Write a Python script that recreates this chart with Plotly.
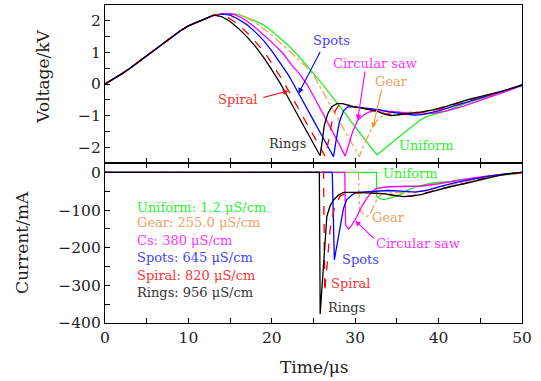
import plotly.graph_objects as go
from plotly.subplots import make_subplots

# ---------------- Voltage (kV) ----------------
t_rise = [0, 1, 2, 3, 4, 5, 6, 7, 8, 9, 10, 11, 12]
v_rise = [0, 0.15, 0.32, 0.5, 0.7, 0.9, 1.1, 1.3, 1.5, 1.68, 1.84, 1.95, 2.07]

t_v_uniform = [13, 14, 15, 16, 17, 18, 19, 20, 21, 22, 23, 24, 25, 26, 27, 28, 29, 30, 31, 32, 32.6,
               34, 35, 36, 37, 37.8, 38.5, 39.5, 41, 43.4, 45.5, 47.4, 49, 50]
v_uniform = [2.17, 2.21, 2.22, 2.2, 2.1, 2.0, 1.87, 1.68, 1.45, 1.22, 0.95, 0.65, 0.34, 0.02, -0.32, -0.65,
             -1.0, -1.36, -1.7, -2.02, -2.24, -1.94, -1.73, -1.52, -1.31, -1.14, -1.04, -0.96, -0.84,
             -0.6, -0.44, -0.28, -0.12, -0.03]

t_v_gear = [13, 14, 15, 16, 17, 18, 19, 20, 21, 22, 23, 24, 25, 25.6, 26.5, 27.5, 28.5, 29.5, 30.5,
            31, 31.8, 32.6, 33.4, 34.2, 35, 36, 37, 38, 40, 42, 44, 46, 48, 50]
v_gear = [2.17, 2.21, 2.22, 2.2, 2.1, 1.95, 1.75, 1.55, 1.3, 1.08, 0.82, 0.58, 0.28, 0, -0.42, -0.9,
          -1.38, -1.85, -2.3, -1.95, -1.5, -1.15, -0.98, -0.9, -0.88, -0.9, -0.9, -0.88, -0.82, -0.68,
          -0.52, -0.38, -0.22, -0.03]

t_v_cs = [13, 14.5, 15.5, 16.5, 17.5, 18.5, 19.5, 20.5, 21.4, 22.4, 23.2, 24.2, 25, 26, 27, 28, 28.8,
          29.2, 29.7, 30.3, 31, 31.7, 32.5, 33.5, 35, 36.5, 38, 39.5, 41, 43, 45, 47, 49, 50]
v_cs = [2.17, 2.23, 2.2, 2.08, 1.9, 1.68, 1.45, 1.2, 0.95, 0.6, 0.36, 0, -0.38, -0.86, -1.36, -1.86,
        -2.28, -1.9, -1.5, -1.15, -0.98, -0.88, -0.85, -0.85, -0.88, -0.92, -0.95, -0.92, -0.85, -0.7,
        -0.52, -0.35, -0.15, -0.05]

t_v_spots = [13, 14, 15, 16, 17, 18, 19, 20, 21, 22, 22.6, 23, 24, 25, 26, 27.4, 27.7, 28.1, 28.6, 29.1,
             30, 31, 32, 33, 34, 35, 36, 37, 38, 39, 40, 42, 44, 46, 48, 50]
v_spots = [2.17, 2.22, 2.18, 2.05, 1.88, 1.65, 1.38, 1.05, 0.68, 0.28, 0, -0.2, -0.68, -1.15, -1.63,
           -2.3, -1.8, -1.2, -0.85, -0.72, -0.72, -0.75, -0.78, -0.82, -0.88, -0.92, -0.95, -0.98,
           -0.97, -0.92, -0.85, -0.68, -0.52, -0.38, -0.2, -0.03]

t_v_spiral = [13, 13.5, 14.5, 15.5, 16.5, 17.5, 18.5, 19.5, 20.5, 21.5, 22.5, 23.5, 24.5, 25.5, 26.4,
              26.8, 27.2, 27.6, 28.1, 28.8, 29.5, 30.5, 31.5, 32.5, 33.5, 34.5, 36, 38, 40, 43.4, 47.4, 50]
v_spiral = [2.17, 2.2, 2.14, 1.98, 1.76, 1.5, 1.2, 0.86, 0.46, 0.03, -0.45, -0.93, -1.4, -1.87, -2.29,
            -1.8, -1.2, -0.85, -0.65, -0.62, -0.7, -0.75, -0.8, -0.85, -0.93, -0.98, -0.95, -0.9, -0.8,
            -0.52, -0.25, -0.03]

t_v_rings = [13, 14, 15, 16, 17, 18, 19, 20, 21, 22, 23, 24, 25, 25.8, 26.0, 26.3, 26.7, 27.2, 27.8,
             28.5, 29.5, 30.5, 31.5, 32.5, 33.5, 34.2, 35, 36, 37, 38, 39.3, 41, 43.4, 45.5, 47.4, 49, 50]
v_rings = [2.18, 2.13, 1.98, 1.76, 1.5, 1.2, 0.85, 0.45, 0.03, -0.45, -0.93, -1.4, -1.87, -2.27, -1.9,
           -1.3, -0.95, -0.72, -0.62, -0.62, -0.7, -0.75, -0.8, -0.85, -0.95, -1.0, -0.98, -0.95, -0.92,
           -0.88, -0.82, -0.7, -0.5, -0.37, -0.24, -0.12, -0.03]

# ---------------- Current (mA) ----------------
t_i_uniform = [0, 32.55, 32.6, 33, 33.5, 34.2, 35.4, 36.5, 37.4, 39.3, 41.4, 43.4, 45.3, 47.4, 49.3, 50]
i_uniform = [0, 0, -64, -70, -72, -68, -59, -45, -37, -28, -24, -17, -13, -7, -4, 0]

t_i_gear = [0, 30.4, 30.5, 31, 31.4, 31.8, 32.3, 32.8, 33.5, 35, 37, 39, 41, 43, 45, 47, 50]
i_gear = [0, 0, -99, -112, -117, -110, -85, -64, -55, -54, -52, -45, -35, -25, -15, -7, 0]

t_i_cs = [0, 28.75, 28.85, 29.2, 29.6, 30.2, 30.8, 31.4, 32, 32.6, 34, 36, 38, 40, 42, 44, 46, 48, 50]
i_cs = [0, 0, -140, -150, -140, -117, -90, -68, -52, -42, -38, -38, -36, -30, -22, -15, -9, -4, 0]

t_i_spots = [0, 27.25, 27.5, 27.9, 28.2, 28.6, 29, 29.6, 30.2, 32, 34, 36, 37.2, 38.5, 40, 42, 44, 46, 48, 50]
i_spots = [0, 0, -232, -180, -140, -95, -72, -60, -53, -50, -48, -50, -52, -48, -38, -27, -18, -10, -4, 0]

t_i_spiral = [0, 26.2, 26.35, 26.7, 27, 27.5, 28.2, 29, 31, 33, 35, 36.5, 38, 40, 43, 46, 50]
i_spiral = [0, 0, -318, -230, -150, -95, -62, -55, -54, -56, -62, -63, -57, -45, -30, -12, 0]

t_i_rings = [0, 25.7, 25.8, 26.2, 26.6, 27, 27.4, 28, 28.6, 30, 31.4, 33.4, 34.5, 35.8, 37, 38, 39.3, 41,
             43.4, 45.5, 47.4, 49, 50]
i_rings = [0, 0, -376, -232, -117, -88, -73, -60, -53, -53, -55, -56, -60, -64, -62, -58, -50, -40, -28,
           -17, -7, -2, 0]

# tick labels
x_ticks = [0, 5, 10, 15, 20, 25, 30, 35, 40, 45, 50]
x_labels = ["0", "", "10", "", "20", "", "30", "", "40", "", "50"]
v_ticks = [-2.5, -2, -1.5, -1, -0.5, 0, 0.5, 1, 1.5, 2, 2.5]
v_labels = ["", "−2", "", "−1", "", "0", "", "1", "", "2", ""]
i_ticks = [-400, -350, -300, -250, -200, -150, -100, -50, 0]
i_labels = ["−400", "", "−300", "", "−200", "", "−100", "", "0"]

legend_lines = ["Uniform: 1.2 μS/cm", "Gear: 255.0 μS/cm", "Cs: 380 μS/cm",
                "Spots: 645 μS/cm", "Spiral: 820 μS/cm", "Rings: 956 μS/cm"]

FONT = "DejaVu Serif"
C_GREEN, C_ORANGE, C_MAG, C_BLUE, C_RED, C_BLACK = "#22ee22", "#f7a05e", "#ff00ff", "#0000ff", "#ff0000", "#000000"
T_GREEN, T_ORANGE, T_MAG, T_BLUE, T_RED, T_BLACK = "#33ee33", "#f0a060", "#ff33ff", "#4444ff", "#ff3333", "#333333"
A_ORANGE = "#ff9020"

fig = make_subplots(rows=2, cols=1, shared_xaxes=True, vertical_spacing=0)

series = [
    (t_v_uniform, v_uniform, t_i_uniform, i_uniform, C_GREEN, "solid"),
    (t_v_gear, v_gear, t_i_gear, i_gear, C_ORANGE, "dashdot"),
    (t_v_cs, v_cs, t_i_cs, i_cs, C_MAG, "solid"),
    (t_v_spots, v_spots, t_i_spots, i_spots, C_BLUE, "solid"),
    (t_v_spiral, v_spiral, t_i_spiral, i_spiral, C_RED, "dash"),
    (t_v_rings, v_rings, t_i_rings, i_rings, C_BLACK, "solid"),
]
for tv, vv, ti, ii, col, dash in series:
    fig.add_trace(go.Scatter(x=t_rise + tv, y=v_rise + vv, mode="lines",
                             line=dict(color=col, width=1.3, dash=dash), showlegend=False), row=1, col=1)
    fig.add_trace(go.Scatter(x=ti, y=ii, mode="lines",
                             line=dict(color=col, width=1.3, dash=dash), showlegend=False), row=2, col=1)

ann = []
def text(x, y, s, color, xref="x", yref="y", size=13, xanchor="center"):
    ann.append(dict(x=x, y=y, xref=xref, yref=yref, text=s, showarrow=False,
                    font=dict(family=FONT, size=size, color=color), xanchor=xanchor, yanchor="middle"))

def arrow(x0, y0, x1, y1, color, xref="x", yref="y"):
    ann.append(dict(x=x1, y=y1, ax=x0, ay=y0, xref=xref, yref=yref, axref=xref, ayref=yref,
                    text="", showarrow=True, arrowhead=2, arrowsize=1, arrowwidth=1.1, arrowcolor=color))

# top panel labels
text(27.2, 1.39, "Spots", T_BLUE)
arrow(25.9, 1.07, 23.2, -0.3, C_BLUE)
text(32.4, 0.66, "Circular saw", T_MAG)
arrow(31.2, 0.44, 30.3, -1.14, C_MAG)
text(34.4, 0.09, "Gear", T_ORANGE)
arrow(33.2, -0.13, 32.1, -1.4, A_ORANGE)
text(15.9, -0.5, "Spiral", T_RED)
arrow(18.8, -0.44, 22.0, -0.22, C_RED)
text(21.9, -1.89, "Rings", T_BLACK)
text(38.5, -1.95, "Uniform", T_GREEN)

# bottom panel labels
text(36.6, -3.5, "Uniform", T_GREEN, "x2", "y2")
text(34.05, -120, "Gear", T_ORANGE, "x2", "y2")
text(37.5, -190, "Circular saw", T_MAG, "x2", "y2")
arrow(32.4, -179, 30.0, -128, C_MAG, "x2", "y2")
text(30.6, -230, "Spots", T_BLUE, "x2", "y2")
text(29.5, -296, "Spiral", T_RED, "x2", "y2")
text(28.9, -359, "Rings", T_BLACK, "x2", "y2")

leg_colors = [T_GREEN, T_ORANGE, T_MAG, T_BLUE, T_RED, T_BLACK]
leg_y = [-93, -134, -180, -227, -273, -318]
for s, c, yv in zip(legend_lines, leg_colors, leg_y):
    text(3.6, yv, s, c, "x2", "y2", xanchor="left")

# axis titles
title_font = dict(family=FONT, size=17, color="#222")
ann.append(dict(x=-0.149, y=0.774, xref="paper", yref="paper", text="Voltage/kV", showarrow=False,
                textangle=-90, xanchor="center", yanchor="middle", font=title_font))
ann.append(dict(x=-0.199, y=0.252, xref="paper", yref="paper", text="Current/mA", showarrow=False,
                textangle=-90, xanchor="center", yanchor="middle", font=title_font))
ann.append(dict(x=0.5, y=-0.137, xref="paper", yref="paper", text="Time/μs", showarrow=False,
                xanchor="center", yanchor="middle", font=title_font))

axis_common = dict(showline=True, linecolor="black", linewidth=1.2, ticks="inside", ticklen=5,
                   tickcolor="black", tickwidth=1, showgrid=False, zeroline=False,
                   tickfont=dict(family=FONT, size=15.5, color="#222"))

fig.update_layout(
    width=541, height=381, margin=dict(l=105, r=19, t=5, b=58),
    paper_bgcolor="white", plot_bgcolor="white", annotations=ann,
    xaxis=dict(axis_common, range=[0, 50], tickvals=x_ticks, ticktext=x_labels, showticklabels=False,
               mirror=True, domain=[0, 1]),
    xaxis2=dict(axis_common, range=[0, 50], tickvals=x_ticks, ticktext=x_labels, mirror="ticks",
                domain=[0, 1]),
    yaxis=dict(axis_common, range=[-2.5, 2.5], tickvals=v_ticks, ticktext=v_labels, mirror=True,
               domain=[0.503, 1]),
    yaxis2=dict(axis_common, range=[-400, 25], tickvals=i_ticks, ticktext=i_labels, mirror=True,
                domain=[0, 0.503]),
)

fig.write_html("out.html")
